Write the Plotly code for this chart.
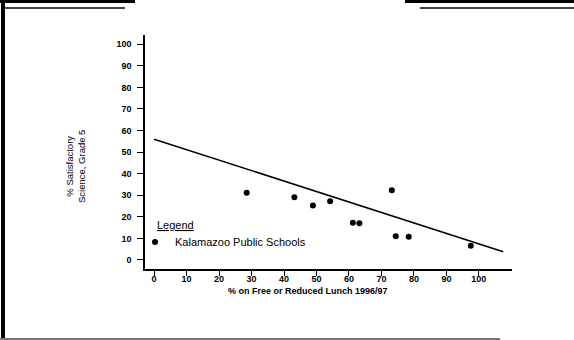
import plotly.graph_objects as go

# ---- data ----
lunch_pct = [28.5, 43.2, 48.9, 54.2, 61.2, 63.2, 73.2, 74.4, 78.4, 97.5]
science_pct = [31.2, 29.1, 25.2, 27.2, 17.3, 17.0, 32.3, 11.0, 10.7, 6.6]
fit_x = [0, 107.5]
fit_y = [56.0, 3.85]
x_ticks = [0, 10, 20, 30, 40, 50, 60, 70, 80, 90, 100]
y_ticks = [0, 10, 20, 30, 40, 50, 60, 70, 80, 90, 100]
series_name = "Kalamazoo Public Schools"
legend_title = "Legend"
x_title = "% on Free or Reduced Lunch 1996/97"
y_title = "% Satisfactory<br>Science, Grade 5"

W, H = 574, 340
L, R, T, B = 145, 62, 35, 71
PW, PH = W - L - R, H - T - B


def px(x):
    return (x - L) / PW


def py(y):
    return (H - B - y) / PH


FONT = "Liberation Sans, Arial, sans-serif"

fig = go.Figure()
fig.add_trace(go.Scatter(
    x=fit_x, y=fit_y, mode="lines", showlegend=False,
    line=dict(color="black", width=1.6), hoverinfo="skip"))
fig.add_trace(go.Scatter(
    x=lunch_pct, y=science_pct, mode="markers", name=series_name,
    marker=dict(color="black", size=6)))

fig.update_layout(
    width=W, height=H,
    margin=dict(l=L, r=R, t=T, b=B, pad=0),
    paper_bgcolor="white", plot_bgcolor="white",
    font=dict(family=FONT, color="black", size=9),
    showlegend=True,
    legend=dict(
        x=px(135), y=py(242), xanchor="left", yanchor="middle",
        bgcolor="rgba(0,0,0,0)", borderwidth=0,
        font=dict(family=FONT, size=11, color="black"),
        itemsizing="trace", tracegroupgap=0,
    ),
    xaxis=dict(
        range=[-2.8, 110.2], tickvals=x_ticks, ticktext=[str(v) for v in x_ticks],
        showgrid=False, zeroline=False, showline=True, linecolor="black",
        linewidth=1.5, ticks="outside", ticklen=5, tickwidth=1, tickcolor="black",
        tickfont=dict(family=FONT, size=9, color="black", weight="bold"),
        ticklabelstandoff=-5,
    ),
    yaxis=dict(
        range=[-4.2, 104.3], tickvals=y_ticks, ticktext=[str(v) for v in y_ticks],
        showgrid=False, zeroline=False, showline=True, linecolor="black",
        linewidth=1.5, ticks="outside", ticklen=6, tickwidth=1, tickcolor="black",
        tickfont=dict(family=FONT, size=9, color="black", weight="bold"),
        ticklabelstandoff=4,
    ),
    annotations=[
        dict(text=x_title, xref="paper", yref="paper", x=px(308), y=py(291),
             xanchor="center", yanchor="middle", showarrow=False,
             font=dict(family=FONT, size=9, color="black", weight="bold")),
        dict(text=y_title, xref="paper", yref="paper", x=px(75), y=py(167),
             xanchor="center", yanchor="middle", showarrow=False, textangle=-90,
             font=dict(family=FONT, size=9.5, color="black")),
        dict(text="<u>" + legend_title + "</u>", xref="paper", yref="paper",
             x=px(155), y=py(225), xanchor="left", yanchor="middle", showarrow=False,
             font=dict(family=FONT, size=11, color="black")),
    ],
    shapes=[
        # scanned page frame
        dict(type="rect", xref="paper", yref="paper", x0=px(1), x1=px(5),
             y0=py(340), y1=py(0), fillcolor="black", line=dict(width=0), layer="below"),
        dict(type="rect", xref="paper", yref="paper", x0=px(0), x1=px(135),
             y0=py(3), y1=py(0), fillcolor="black", line=dict(width=0), layer="below"),
        dict(type="rect", xref="paper", yref="paper", x0=px(5), x1=px(125),
             y0=py(9), y1=py(7), fillcolor="#444", line=dict(width=0), layer="below"),
        dict(type="rect", xref="paper", yref="paper", x0=px(405), x1=px(574),
             y0=py(3), y1=py(0), fillcolor="black", line=dict(width=0), layer="below"),
        dict(type="rect", xref="paper", yref="paper", x0=px(420), x1=px(574),
             y0=py(9), y1=py(7), fillcolor="#444", line=dict(width=0), layer="below"),
        dict(type="rect", xref="paper", yref="paper", x0=px(0), x1=px(500),
             y0=py(340), y1=py(338), fillcolor="#777", line=dict(width=0), layer="below"),
    ],
)

fig.write_html("out.html", config={"displayModeBar": False},
               post_script="document.body.style.margin='0';")
